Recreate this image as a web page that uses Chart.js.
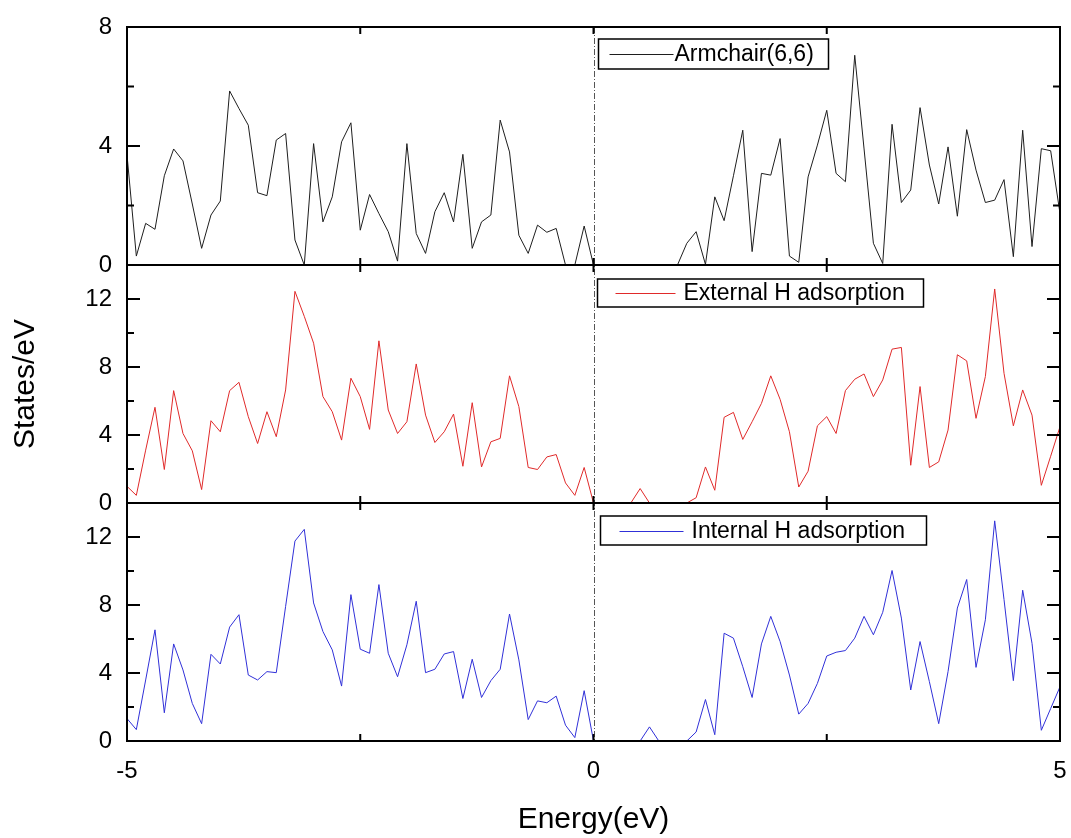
<!DOCTYPE html>
<html>
<head>
<meta charset="utf-8">
<script src="https://cdn.jsdelivr.net/npm/chart.js@4/dist/chart.umd.min.js"></script>
<style>
  html, body { margin: 0; padding: 0; background: #fff; }
  #wrap { width: 1071px; height: 838px; }
</style>
</head>
<body>
<div id="wrap"><canvas id="c" width="1071" height="838"></canvas></div>
<script>
// ---- DATA ----
const energy = [
  -5.0, -4.9, -4.8, -4.7, -4.6, -4.5, -4.4, -4.3, -4.2, -4.1,
  -4.0, -3.9, -3.8, -3.7, -3.6, -3.5, -3.4, -3.3, -3.2, -3.1,
  -3.0, -2.9, -2.8, -2.7, -2.6, -2.5, -2.4, -2.3, -2.2, -2.1,
  -2.0, -1.9, -1.8, -1.7, -1.6, -1.5, -1.4, -1.3, -1.2, -1.1,
  -1.0, -0.9, -0.8, -0.7, -0.6, -0.5, -0.4, -0.3, -0.2, -0.1,
  0.0,
  0.1, 0.2, 0.3, 0.4, 0.5, 0.6, 0.7, 0.8, 0.9, 1.0,
  1.1, 1.2, 1.3, 1.4, 1.5, 1.6, 1.7, 1.8, 1.9, 2.0,
  2.1, 2.2, 2.3, 2.4, 2.5, 2.6, 2.7, 2.8, 2.9, 3.0,
  3.1, 3.2, 3.3, 3.4, 3.5, 3.6, 3.7, 3.8, 3.9, 4.0,
  4.1, 4.2, 4.3, 4.4, 4.5, 4.6, 4.7, 4.8, 4.9, 5.0
];

const armchair = [
  3.7, 0.3, 1.4, 1.2, 3.0, 3.9, 3.5, 2.05, 0.56, 1.68,
  2.15, 5.85, 5.26, 4.7, 2.43, 2.33, 4.2, 4.42, 0.84, 0.0,
  4.08, 1.45, 2.29, 4.14, 4.78, 1.17, 2.37, 1.73, 1.12, 0.13,
  4.08, 1.06, 0.39, 1.79, 2.43, 1.45, 3.72, 0.56, 1.45, 1.68,
  4.87, 3.8, 1.0, 0.39, 1.34, 1.1, 1.23, 0.0, 0.0, 1.31,
  0.0,
  0.0, 0.0, 0.0, 0.0, 0.0, 0.0, 0.0, 0.0, 0.0, 0.73,
  1.12, 0.02, 2.29, 1.49, 3.0, 4.53, 0.45, 3.08, 3.02, 4.25,
  0.3, 0.09, 2.96, 4.03, 5.2, 3.08, 2.8, 7.05, 3.9, 0.73,
  0.05, 4.73, 2.1, 2.52, 5.29, 3.36, 2.05, 3.97, 1.64, 4.55,
  3.19, 2.1, 2.18, 2.87, 0.28, 4.53, 0.62, 3.91, 3.84, 1.73
];

const externalH = [
  0.98, 0.45, 3.11, 5.63, 1.97, 6.61, 4.09, 3.07, 0.79, 4.84,
  4.19, 6.61, 7.1, 5.08, 3.5, 5.37, 3.9, 6.65, 12.45, 10.98,
  9.4, 6.26, 5.37, 3.7, 7.34, 6.26, 4.33, 9.54, 5.47, 4.09,
  4.78, 8.18, 5.17, 3.56, 4.19, 5.23, 2.16, 5.9, 2.12, 3.6,
  3.8, 7.48, 5.67, 2.09, 1.97, 2.71, 2.85, 1.18, 0.45, 2.09,
  0.0,
  0.0, 0.0, 0.0, 0.0, 0.85, 0.0, 0.0, 0.0, 0.0, 0.0,
  0.31, 2.12, 0.75, 5.04, 5.33, 3.74, 4.78, 5.86, 7.48, 6.1,
  4.19, 0.94, 1.87, 4.54, 5.08, 4.09, 6.61, 7.28, 7.59, 6.26,
  7.24, 9.05, 9.15, 2.22, 6.85, 2.09, 2.42, 4.29, 8.72, 8.36,
  4.98, 7.44, 12.59, 7.63, 4.54, 6.65, 5.17, 1.04, 2.75, 4.49
];

const internalH = [
  1.32, 0.67, 3.59, 6.54, 1.66, 5.71, 4.18, 2.21, 1.02, 5.1,
  4.53, 6.7, 7.43, 3.88, 3.59, 4.08, 4.02, 7.92, 11.76, 12.45,
  8.12, 6.44, 5.36, 3.23, 8.61, 5.4, 5.16, 9.2, 5.16, 3.78,
  5.66, 8.22, 4.02, 4.22, 5.12, 5.26, 2.5, 4.81, 2.56, 3.55,
  4.22, 7.47, 4.77, 1.26, 2.36, 2.25, 2.64, 0.93, 0.2, 2.96,
  0.0,
  0.0, 0.0, 0.0, 0.0, 0.0, 0.83, 0.0, 0.0, 0.0, 0.0,
  0.53, 2.44, 0.37, 6.34, 6.05, 4.37, 2.56, 5.71, 7.33, 5.85,
  3.88, 1.58, 2.21, 3.39, 5.0, 5.22, 5.32, 6.05, 7.33, 6.25,
  7.57, 10.03, 7.23, 3.0, 5.85, 3.49, 1.02, 4.08, 7.82, 9.5,
  4.33, 7.13, 12.95, 8.32, 3.55, 8.87, 5.75, 0.63, 1.91, 3.19
];

const seriesNames = ['Armchair(6,6)', 'External H adsorption', 'Internal H adsorption'];
const xTickValues = [-5, -2.5, 0, 2.5, 5];
const xTickLabels = ['-5', '', '0', '', '5'];
const panelMax = [8, 14, 14];

// ---- STYLE / LAYOUT ----
const colors = ['#1e1e1e', '#e02a2a', '#3030d8'];
const legendBoxes = [
  { dx: 5, dy: 12, w: 230, h: 30, l0: 11, l1: 75, tx: 76 },
  { dx: 4, dy: 14, w: 326, h: 28, l0: 18, l1: 78, tx: 86 },
  { dx: 7, dy: 13, w: 326, h: 29, l0: 19, l1: 83, tx: 91 }
];
const FONT = "'Liberation Sans', Arial, Helvetica, sans-serif";
Chart.defaults.font.family = FONT;
Chart.defaults.color = '#000';

const axisIds = ['yA', 'yB', 'yC'];
const series = [armchair, externalH, internalH];

const datasets = series.map((vals, i) => ({
  label: seriesNames[i],
  data: energy.map((e, k) => ({ x: e, y: vals[k] })),
  yAxisID: axisIds[i],
  borderColor: colors[i],
  borderWidth: 1,
  pointRadius: 0,
  tension: 0,
  fill: false
}));

function yScale(i, withTitle) {
  return {
    type: 'linear',
    position: 'left',
    stack: 'dos',
    stackWeight: 1,
    min: 0,
    max: panelMax[i],
    grid: { display: false, drawTicks: false },
    border: { display: false },
    ticks: {
      stepSize: 2,
      padding: 15,
      autoSkip: false,
      font: { size: 24 },
      color: '#000',
      callback: v => (v % 4 === 0 ? String(v) : '')
    },
    title: withTitle ? {
      display: true, text: 'States/eV', color: '#000',
      font: { size: 30, lineHeight: 1.2 }, padding: { top: 8, bottom: 0 }
    } : { display: false },
    afterFit: s => { s.width = 127; s.paddingTop = 0; s.paddingBottom = 0; }
  };
}

const framePlugin = {
  id: 'frame',
  afterDatasetsDraw(chart) {
    const ctx = chart.ctx;
    const xs = chart.scales.x;
    const area = chart.chartArea;
    const L = xs.left, R = xs.right;
    const x0 = xs.getPixelForValue(0);
    ctx.save();
    // dash-dot zero line
    ctx.strokeStyle = '#555';
    ctx.lineWidth = 1;
    ctx.setLineDash([6, 2, 1, 2]);
    ctx.beginPath();
    ctx.moveTo(Math.round(x0) + 0.5, area.top);
    ctx.lineTo(Math.round(x0) + 0.5, area.bottom);
    ctx.stroke();
    ctx.setLineDash([]);

    axisIds.forEach((id, pi) => {
      const ys = chart.scales[id];
      const top = ys.top, bot = ys.bottom;
      ctx.strokeStyle = '#000';
      ctx.lineWidth = 2;
      ctx.strokeRect(L, top, R - L, bot - top);
      // y ticks (inward, both sides)
      ys.ticks.forEach(t => {
        const py = ys.getPixelForValue(t.value);
        const len = (t.value % 4 === 0) ? 13 : 7;
        ctx.beginPath();
        ctx.moveTo(L, py); ctx.lineTo(L + len, py);
        ctx.moveTo(R, py); ctx.lineTo(R - len, py);
        ctx.stroke();
      });
      // x ticks (inward, top & bottom)
      xTickValues.forEach(v => {
        const px = xs.getPixelForValue(v);
        ctx.beginPath();
        ctx.moveTo(px, top); ctx.lineTo(px, top + 7);
        ctx.moveTo(px, bot); ctx.lineTo(px, bot - 7);
        ctx.stroke();
      });
      // legend box
      const lb = legendBoxes[pi];
      const bx = x0 + lb.dx, by = top + lb.dy;
      ctx.fillStyle = '#fff';
      ctx.fillRect(bx, by, lb.w, lb.h);
      ctx.strokeStyle = '#000';
      ctx.lineWidth = 1.5;
      ctx.strokeRect(bx, by, lb.w, lb.h);
      const cy = by + lb.h / 2;
      ctx.strokeStyle = colors[pi];
      ctx.lineWidth = 1;
      ctx.beginPath();
      ctx.moveTo(bx + lb.l0, Math.round(cy) + 0.5);
      ctx.lineTo(bx + lb.l1, Math.round(cy) + 0.5);
      ctx.stroke();
      ctx.fillStyle = '#000';
      ctx.font = '23px ' + FONT;
      ctx.textBaseline = 'middle';
      ctx.textAlign = 'left';
      ctx.fillText(chart.data.datasets[pi].label, bx + lb.tx, cy + 1);
    });
    ctx.restore();
  }
};

new Chart(document.getElementById('c'), {
  type: 'line',
  data: { datasets },
  options: {
    responsive: false,
    animation: false,
    events: [],
    layout: { padding: { top: 27, right: 11, left: 0, bottom: 0 } },
    plugins: { legend: { display: false }, tooltip: { enabled: false } },
    scales: {
      // stacked axes are laid out bottom-up in definition order
      yC: yScale(2, false),
      yB: yScale(1, true),
      yA: yScale(0, false),
      x: {
        type: 'linear',
        position: 'bottom',
        min: -5, max: 5,
        grid: { display: false, drawTicks: false },
        border: { display: false },
        afterBuildTicks: s => { s.ticks = xTickValues.map(v => ({ value: v })); },
        ticks: {
          padding: 16,
          autoSkip: false,
          maxRotation: 0,
          font: { size: 24 },
          color: '#000',
          callback: (v) => xTickLabels[xTickValues.indexOf(v)] ?? ''
        },
        title: {
          display: true, text: 'Energy(eV)', color: '#000',
          font: { size: 30, lineHeight: 1.2 }, padding: { top: 0, bottom: 0 }
        },
        afterFit: s => { s.height = 97; s.paddingLeft = 0; s.paddingRight = 0; }
      }
    }
  },
  plugins: [framePlugin]
});
</script>
</body>
</html>
